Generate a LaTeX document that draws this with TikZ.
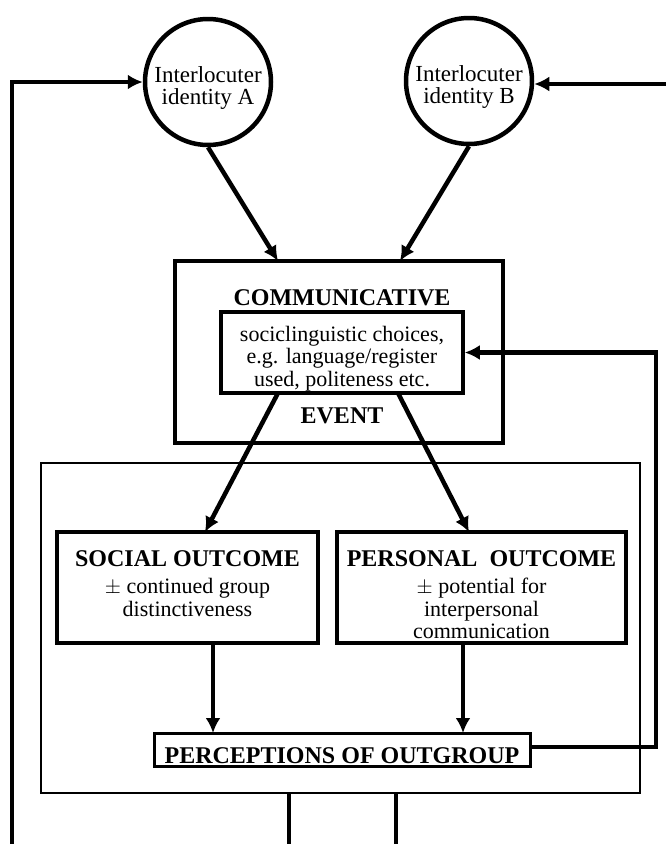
\documentclass[tikz,border=0pt]{standalone}
\usepackage{fontspec}
\setmainfont{Liberation Serif}
\usetikzlibrary{arrows.meta,calc}
\begin{document}
\begin{tikzpicture}[x=1pt,y=-1pt,
  circ/.style={draw,circle,line width=4.5pt,minimum size=126pt,inner sep=0pt},
  bx/.style={draw,rectangle,line width=3.5pt,inner sep=0pt},
  thinbx/.style={draw,rectangle,line width=2.5pt,inner sep=0pt},
  conn/.style={line width=4.5pt},
  arr/.style={line width=4.5pt,-{Latex[length=15pt,width=15pt]}},
  txt/.style={font=\fontsize{22}{22}\selectfont,inner sep=0pt,anchor=base,align=center},
  ctxt/.style={font=\fontsize{23}{22}\selectfont,inner sep=0pt,anchor=base},
  hdr/.style={font=\fontsize{24}{22}\selectfont\bfseries,inner sep=0pt,anchor=base}]
\useasboundingbox (0,0) rectangle (666,844);
% circles
\node[circ] (cA) at (208,82) {};
\node[circ] (cB) at (469,81) {};
\node[ctxt] (tA1) at (208,82) {Interlocuter};
\node[ctxt] (tA2) at (208,104) {identity A};
\node[ctxt] (tB1) at (469,81) {Interlocuter};
\node[ctxt] (tB2) at (469,103) {identity B};
% communicative event
\node[bx,minimum width=328pt,minimum height=182pt] (comm) at (339,352) {};
\node[bx,fill=white,minimum width=242pt,minimum height=81pt] (inner) at (342,352.5) {};
\node[hdr] (tC) at (342,305) {COMMUNICATIVE};
\node[hdr] (tE) at (342,423) {EVENT};
\node[txt] (tI1) at (342,341) {sociclinguistic choices,};
\node[txt] (tI2) at (342,363) {e.g. language/register};
\node[txt] (tI3) at (342,386) {used, politeness etc.};
% outcome area
\node[thinbx,minimum width=599pt,minimum height=330pt] (out) at (340.5,628) {};
\node[bx,minimum width=261pt,minimum height=111pt] (soc) at (187.5,587.5) {};
\node[bx,minimum width=289pt,minimum height=111pt] (per) at (481.5,587.5) {};
\node[hdr] (tS0) at (187.5,566) {SOCIAL OUTCOME};
\node[txt] (tS1) at (187.5,593) {$\pm$ continued group};
\node[txt] (tS2) at (187.5,616) {distinctiveness};
\node[hdr] (tP0) at (481.5,566) {PERSONAL\ \ OUTCOME};
\node[txt] (tP1) at (481.5,593) {$\pm$ potential for};
\node[txt] (tP2) at (481.5,616) {interpersonal};
\node[txt] (tP3) at (481.5,638) {communication};
\node[thinbx,line width=3pt,minimum width=376pt,minimum height=33pt] (perc) at (342,749.5) {};
\node[hdr] (tQ) at (342,763) {PERCEPTIONS OF OUTGROUP};
% coordinates
\coordinate (L0) at (12,844);
\coordinate (R0) at (666,84);
\coordinate (aT) at (278,261);
\coordinate (bT) at (400,261);
\coordinate (s1) at (278,393);
\coordinate (s2) at (398,393);
\coordinate (sT) at (205,532);
\coordinate (pT) at (469,532);
\coordinate (d1) at (213,643);
\coordinate (d1e) at (213,733);
\coordinate (d2) at (463,643);
\coordinate (d2e) at (463,733);
\coordinate (fb) at (656,747);
\coordinate (o1) at (289,793);
\coordinate (o1e) at (289,844);
\coordinate (o2) at (396,793);
\coordinate (o2e) at (396,844);
% connectors
\draw[arr] (L0) |- (cA.west);
\draw[arr] (R0) -- (cB.east |- R0);
\draw[arr] (cA.south) -- (aT);
\draw[arr] (cB.south) -- (bT);
\draw[arr] (s1) -- (sT);
\draw[arr] (s2) -- (pT);
\draw[arr] (d1) -- (d1e);
\draw[arr] (d2) -- (d2e);
\draw[arr] (perc.east |- fb) -- (fb) |- (inner.east);
\draw[conn] (o1) -- (o1e);
\draw[conn] (o2) -- (o2e);
\end{tikzpicture}
\end{document}
